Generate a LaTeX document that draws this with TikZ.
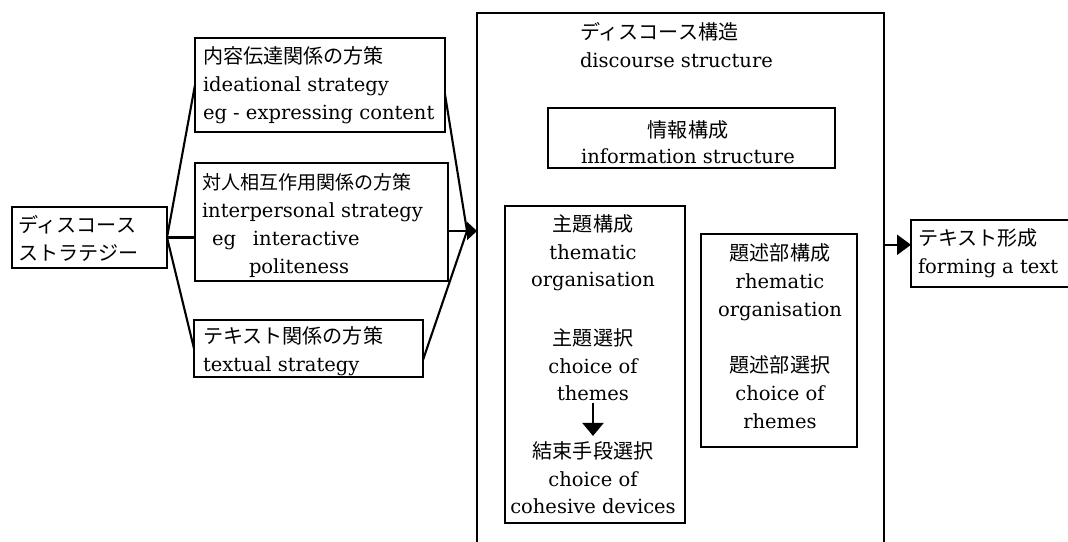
\documentclass[tikz,border=0pt]{standalone}
\usepackage{fontspec}
\setmainfont{DejaVu Serif}
\newfontfamily\jp[Scale=1.03]{Noto Sans CJK JP}
\usetikzlibrary{arrows.meta,calc}
\begin{document}
\begin{tikzpicture}[x=1pt,y=-1pt,
  every node/.style={inner sep=0pt, outer sep=0pt},
  txt/.style={font=\fontsize{19.5}{28}\selectfont},
  box/.style={draw, line width=2.6pt},
  fan/.style={line width=2.1pt},
  headR/.style={line width=2.4pt, -{Triangle[length=10pt,width=18pt]}},
  headD/.style={line width=2.4pt, -{Triangle[length=13pt,width=21pt]}},
]
\useasboundingbox (0,0) rectangle (1068,541);
\clip (0,0) rectangle (1068,541);
\fill[white] (0,0) rectangle (1068,541);

% left box
\node[box, minimum width=155pt, minimum height=61pt] (strat) at (89.5,237.5) {};
\node[txt, anchor=west, align=left] (stratT) at ([xshift=6pt,yshift=-1pt]strat.west) {\jp ディスコース\\\jp ストラテジー};

% strategies
\node[box, minimum width=250pt, minimum height=94pt] (idea) at (320,85) {};
\node[txt, anchor=west, align=left] (ideaT) at ([xshift=8pt]idea.west)
  {\jp 内容伝達関係の方策\\ideational strategy\\eg - expressing content};

\node[box, minimum width=253pt, minimum height=118pt] (inter) at (321.5,222) {};
\node[txt, anchor=west, align=left] (interT) at ([xshift=7pt,yshift=-3pt]inter.west)
  {{\jp\fontsize{18.5}{28}\selectfont 対人相互作用関係の方策}\\interpersonal strategy\\\hspace*{10pt}\makebox[41pt][l]{eg}interactive\\\hspace*{47pt}politeness};

\node[box, minimum width=229pt, minimum height=57pt] (textb) at (308.5,348.5) {};
\node[txt, anchor=west, align=left] (textbT) at ([xshift=9pt,yshift=-3pt]textb.west)
  {\jp テキスト関係の方策\\textual strategy};

% big box
\node[box, line width=2.4pt, minimum width=407pt, minimum height=587pt] (big) at (680.5,306.5) {};
\node[txt, anchor=west, align=left] (bigT) at (580,45.5) {\jp ディスコース構造\\discourse structure};

\node[box, minimum width=287pt, minimum height=60pt] (info) at (691.5,138) {};
\node[txt, align=center, font=\fontsize{19.5}{26}\selectfont] (infoT) at (688,142) {\jp 情報構成\\information structure};

\node[box, minimum width=180pt, minimum height=317pt] (them) at (595,364.5) {};
\node[txt, align=center, font=\fontsize{19.5}{27.5}\selectfont] (th1) at (593,253) {\jp 主題構成\\thematic\\organisation};
\node[txt, align=center, font=\fontsize{19.5}{27.5}\selectfont] (th2) at (593,365) {\jp 主題選択\\choice of\\themes};
\node[txt, align=center, font=\fontsize{19.5}{27.5}\selectfont] (th3) at (593,478) {\jp 結束手段選択\\choice of\\cohesive devices};
\draw[headD] ($(th2.south)+(0,2)$) -- ($(th3.north)+(0,-6)$);

\node[box, minimum width=156pt, minimum height=213pt] (rhem) at (779,340.5) {};
\node[txt, align=center, font=\fontsize{19.5}{28}\selectfont] (rh1) at (780,282) {\jp 題述部構成\\rhematic\\organisation};
\node[txt, align=center, font=\fontsize{19.5}{28}\selectfont] (rh2) at (780,392) {\jp 題述部選択\\choice of\\rhemes};

% output box
\node[box, minimum width=169pt, minimum height=67pt] (outb) at (995.5,253.5) {};
\node[txt, anchor=west, align=left] (outbT) at ([xshift=7pt]outb.west) {\jp テキスト形成\\forming a text};

% connectors
\coordinate (J) at (467,231);
\draw[fan] (strat.east) -- (idea.west);
\draw[fan] (strat.east) -- (strat.east -| inter.west);
\draw[fan] (strat.east) -- (textb.west);
\draw[fan] ($(idea.north east)!0.6!(idea.south east)$) -- (J);
\draw[fan] (J -| inter.east) -- (J);
\draw[fan] ($(textb.north east)!0.7!(textb.south east)$) -- (J);
\draw[headR] (J) -- (J -| big.west);

\coordinate (oa) at ($(outb.north west)!0.37!(outb.south west)$);
\draw[line width=2.4pt, -{Triangle[length=14pt,width=20pt]}] (oa -| big.east) -- (oa);
\end{tikzpicture}
\end{document}
